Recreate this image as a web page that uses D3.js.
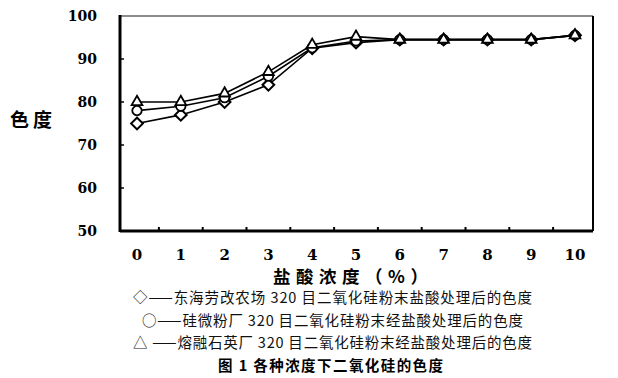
<!DOCTYPE html>
<html>
<head>
<meta charset="utf-8">
<script src="https://cdn.jsdelivr.net/npm/d3@7"></script>
<style>
  body { margin: 0; background: #fff; }
  svg { display: block; }
</style>
</head>
<body>
<script>
var concentrations = [0, 1, 2, 3, 4, 5, 6, 7, 8, 9, 10];
var yTicks = [50, 60, 70, 80, 90, 100];

// 东海劳改农场 (diamond)
var donghai = [75, 77, 80, 84, 92.5, 93.8, 94.5, 94.5, 94.5, 94.5, 95.5];
// 硅微粉厂 (circle)
var guiweifen = [78, 79, 81, 86, 92.6, 94.2, 94.5, 94.5, 94.5, 94.5, 95.5];
// 熔融石英厂 (triangle)
var rongrong = [80, 80, 82, 87, 93.3, 95.2, 94.5, 94.5, 94.5, 94.5, 95.5];

var legendLines = [
  "◇——东海劳改农场 320 目二氧化硅粉末盐酸处理后的色度",
  "○——硅微粉厂 320 目二氧化硅粉末经盐酸处理后的色度",
  "△ ——熔融石英厂 320 目二氧化硅粉末经盐酸处理后的色度"
];
var caption = "图 1   各种浓度下二氧化硅的色度";

var width = 618, height = 378;
var plot = { left: 120, right: 593, top: 16, bottom: 231 };

var svg = d3.select("body").append("svg")
  .attr("width", width)
  .attr("height", height);

var x = d3.scalePoint()
  .domain(concentrations)
  .range([137, 575]);

var y = d3.scaleLinear()
  .domain([50, 100])
  .range([plot.bottom, plot.top]);

var line = d3.line()
  .x(function (d, i) { return x(concentrations[i]); })
  .y(function (d) { return y(d); });

// frame
svg.append("line").attr("x1", plot.left).attr("x2", plot.right)
  .attr("y1", plot.top).attr("y2", plot.top)
  .attr("stroke", "#666").attr("stroke-width", 1.5);
svg.append("line").attr("x1", plot.right).attr("x2", plot.right)
  .attr("y1", plot.top).attr("y2", plot.bottom)
  .attr("stroke", "#000").attr("stroke-width", 2);
svg.append("line").attr("x1", plot.left).attr("x2", plot.left)
  .attr("y1", plot.top - 1).attr("y2", plot.bottom + 1)
  .attr("stroke", "#000").attr("stroke-width", 3);
svg.append("line").attr("x1", plot.left).attr("x2", plot.right)
  .attr("y1", plot.bottom).attr("y2", plot.bottom)
  .attr("stroke", "#000").attr("stroke-width", 3);

// y ticks and labels
svg.selectAll(".ytick")
  .data(yTicks.slice(1, -1))
  .enter().append("line")
  .attr("x1", plot.left).attr("x2", plot.left + 4)
  .attr("y1", function (d) { return y(d); })
  .attr("y2", function (d) { return y(d); })
  .attr("stroke", "#000").attr("stroke-width", 1.5);

svg.selectAll(".ylab")
  .data(yTicks)
  .enter().append("text")
  .attr("x", 97)
  .attr("y", function (d) { return y(d) + 5; })
  .attr("text-anchor", "end")
  .attr("font-family", "'DejaVu Serif', serif")
  .attr("font-weight", "bold")
  .attr("font-size", 14)
  .text(function (d) { return d; });

// x ticks between categories
var step = x.step();
svg.selectAll(".xtick")
  .data(concentrations.slice(0, -1))
  .enter().append("line")
  .attr("x1", function (d) { return x(d) + step / 2; })
  .attr("x2", function (d) { return x(d) + step / 2; })
  .attr("y1", plot.bottom).attr("y2", plot.bottom - 4)
  .attr("stroke", "#000").attr("stroke-width", 2);

svg.selectAll(".xlab")
  .data(concentrations)
  .enter().append("text")
  .attr("x", function (d) { return x(d); })
  .attr("y", 260)
  .attr("text-anchor", "middle")
  .attr("font-family", "'DejaVu Serif', serif")
  .attr("font-weight", "bold")
  .attr("font-size", 15)
  .text(function (d) { return d; });

// axis titles
svg.append("text")
  .attr("x", 273).attr("y", 283)
  .attr("textLength", 155)
  .attr("lengthAdjust", "spacing")
  .attr("font-family", "'Noto Sans CJK SC', sans-serif")
  .attr("font-weight", "bold")
  .attr("font-size", 17.5)
  .text("盐酸浓度（%）");

svg.append("text")
  .attr("x", 10).attr("y", 127)
  .attr("textLength", 42)
  .attr("lengthAdjust", "spacing")
  .attr("font-family", "'Noto Sans CJK SC', sans-serif")
  .attr("font-weight", "bold")
  .attr("font-size", 19)
  .text("色度");

// series
var series = [
  { values: donghai, shape: d3.symbolDiamond, size: 60 },
  { values: guiweifen, shape: d3.symbolCircle, size: 70 },
  { values: rongrong, shape: d3.symbolTriangle, size: 50 }
];

series.forEach(function (s) {
  svg.append("path")
    .datum(s.values)
    .attr("fill", "none")
    .attr("stroke", "#000")
    .attr("stroke-width", 1.6)
    .attr("d", line);
});

series.forEach(function (s) {
  svg.selectAll(null)
    .data(s.values)
    .enter().append("path")
    .attr("transform", function (d, i) {
      return "translate(" + x(concentrations[i]) + "," + y(d) + ")" +
        (s.shape === d3.symbolDiamond ? " scale(1.4,0.8)" : "");
    })
    .attr("d", d3.symbol().type(s.shape).size(s.size))
    .attr("fill", "#fff")
    .attr("stroke", "#000")
    .attr("stroke-width", 1.8);
});

// legend and caption
var legendX = [133, 142, 133];
var legendW = [399, 381, 399];
svg.selectAll(".legend")
  .data(legendLines)
  .enter().append("text")
  .attr("x", function (d, i) { return legendX[i]; })
  .attr("y", function (d, i) { return 303 + i * 22.5; })
  .attr("textLength", function (d, i) { return legendW[i]; })
  .attr("lengthAdjust", "spacing")
  .attr("font-family", "'Noto Sans CJK SC', sans-serif")
  .attr("font-size", 14.5)
  .attr("fill", "#111")
  .text(function (d) { return d; });

svg.append("text")
  .attr("x", 218).attr("y", 371)
  .attr("textLength", 225)
  .attr("lengthAdjust", "spacing")
  .attr("font-family", "'Noto Sans CJK SC', sans-serif")
  .attr("font-weight", "bold")
  .attr("font-size", 14.5)
  .text(caption);
</script>
</body>
</html>
